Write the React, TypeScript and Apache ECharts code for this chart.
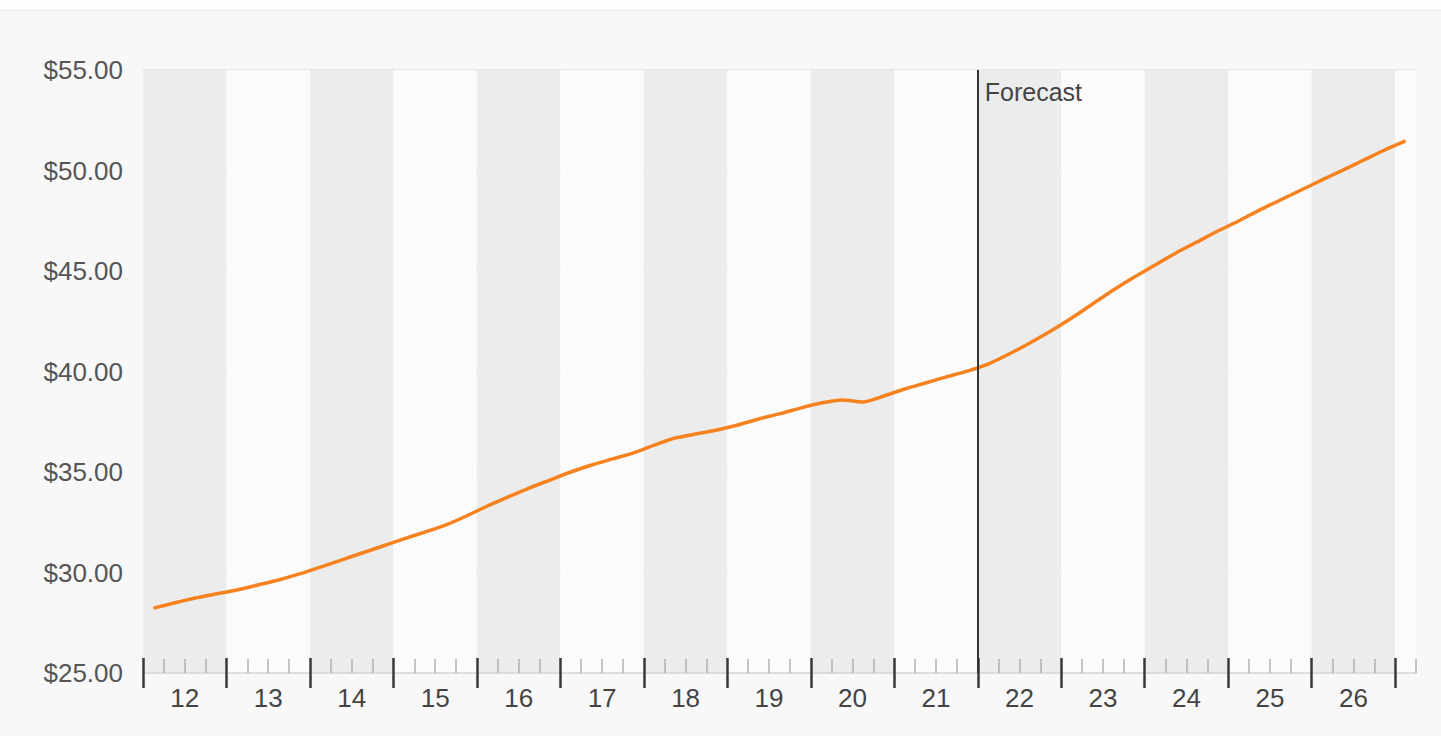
import React, { useEffect, useRef } from "react";
import * as echarts from "echarts";

// Year labels (20xx), one per year band
const yearLabels = ["12", "13", "14", "15", "16", "17", "18", "19", "20", "21", "22", "23", "24", "25", "26"];

// Quarterly values, 2012 Q1 .. 2027 Q1
const quarterValues = [
  28.23, 28.48, 28.73, 28.93,
  29.13, 29.38, 29.63, 29.93,
  30.27, 30.62, 30.97, 31.32,
  31.67, 32.01, 32.36, 32.81,
  33.31, 33.76, 34.2, 34.6,
  35.0, 35.35, 35.65, 35.95,
  36.34, 36.69, 36.89, 37.09,
  37.34, 37.64, 37.89, 38.18,
  38.43, 38.58, 38.48, 38.78,
  39.13, 39.43, 39.73, 40.02,
  40.37, 40.87, 41.42, 42.01,
  42.66, 43.36, 44.05, 44.7,
  45.3, 45.9, 46.44, 46.99,
  47.49, 48.03, 48.53, 49.03,
  49.53, 50.02, 50.52, 51.02,
  51.47,
];

const forecastStartQuarter = 40; // start of 2022
const forecastLabel = "Forecast";
const yMin = 25;
const yMax = 55;
const yStep = 5;

export default function App() {
  const ref = useRef<HTMLDivElement>(null);

  useEffect(() => {
    if (!ref.current) return;
    const chart = echarts.init(ref.current, null, { renderer: "svg" });
    const font = "'Liberation Sans', Arial, Helvetica, sans-serif";
    const data = quarterValues.map((v, i) => [i + 0.5, v]);
    const nQ = quarterValues.length; // 61
    const left = 143;
    const width0 = 1273;
    const width1 = (width0 / nQ) * (yearLabels.length * 4);

    chart.setOption({
      animation: false,
      backgroundColor: "#f8f8f8",
      textStyle: { fontFamily: font },
      grid: [
        { left, top: 59, width: width0, bottom: 63 },
        { left, top: 59, width: width1, bottom: 63 },
      ],
      xAxis: [
        {
          type: "value",
          gridIndex: 0,
          position: "bottom",
          min: 0,
          max: nQ + 0.0001,
          interval: 4,
          axisLine: { show: true, onZero: false, lineStyle: { color: "#d6d6d6", width: 1.5 } },
          axisTick: { show: false, inside: true },
          minorTick: { show: true, splitNumber: 4, length: 14, lineStyle: { color: "#b0b0b0", width: 1.5 } },
          axisLabel: { show: false },
          splitLine: { show: false },
          splitArea: { show: true, areaStyle: { color: ["#ececec", "#fbfbfb"] } },
        },
        {
          type: "value",
          gridIndex: 1,
          position: "bottom",
          min: 0,
          max: yearLabels.length * 4,
          interval: 4,
          axisLine: { show: false, onZero: false },
          axisTick: { show: true, inside: true, length: 15, lineStyle: { color: "#3a3a3a", width: 2.5 } },
          axisLabel: { show: false },
          splitLine: { show: false },
        },
        {
          type: "value",
          gridIndex: 1,
          position: "bottom",
          min: 0,
          max: yearLabels.length * 4,
          interval: 4,
          axisLine: { show: false, onZero: false },
          axisTick: { show: true, inside: false, length: 15, lineStyle: { color: "#3a3a3a", width: 2.5 } },
          axisLabel: { show: false },
          splitLine: { show: false },
        },
        {
          type: "value",
          gridIndex: 1,
          position: "bottom",
          min: 0,
          max: yearLabels.length * 4,
          interval: 2,
          axisLine: { show: false, onZero: false },
          axisTick: { show: false },
          axisLabel: {
            show: true,
            margin: 12,
            color: "#444",
            fontSize: 26,
            fontFamily: font,
            formatter: (v: number) => (v % 4 === 2 ? yearLabels[(v - 2) / 4] ?? "" : ""),
          },
          splitLine: { show: false },
        },
      ],
      yAxis: [
        {
          type: "value",
          gridIndex: 0,
          min: yMin,
          max: yMax,
          interval: yStep,
          axisLine: { show: false },
          axisTick: { show: false },
          axisLabel: {
            margin: 20,
            color: "#555",
            fontSize: 26,
            fontFamily: font,
            formatter: (v: number) => "$" + v.toFixed(2),
          },
          splitLine: { show: true, lineStyle: { color: "#e0e0e0", width: 1.5 } },
        },
        { type: "value", gridIndex: 1, min: 0, max: 1, show: false },
      ],
      series: [
        {
          type: "line",
          xAxisIndex: 0,
          yAxisIndex: 0,
          data,
          symbol: "none",
          showSymbol: false,
          smooth: 0.2,
          lineStyle: { color: "#f5821f", width: 3.5 },
          itemStyle: { color: "#f5821f" },
          markLine: {
            silent: true,
            symbol: ["none", "none"],
            label: { show: false },
            lineStyle: { color: "#333", width: 2, type: "solid" },
            data: [{ xAxis: forecastStartQuarter }],
          },
          markPoint: {
            silent: true,
            symbol: "circle",
            symbolSize: 0,
            itemStyle: { color: "rgba(0,0,0,0)" },
            label: {
              show: true,
              position: "right",
              distance: 7,
              offset: [0, 22],
              formatter: forecastLabel,
              color: "#444",
              fontSize: 25,
              fontFamily: font,
            },
            data: [{ coord: [forecastStartQuarter, yMax] }],
          },
        },
      ],
    });

    return () => chart.dispose();
  }, []);

  return (
    <div style={{ position: "fixed", left: 0, top: 0, width: 1441, height: 736, background: "#fdfdfd" }}>
      <div style={{ position: "absolute", left: 0, top: 10, width: 1441, height: 1, background: "#eeeeee" }} />
      <div ref={ref} style={{ position: "absolute", left: 0, top: 11, width: 1441, height: 725 }} />
    </div>
  );
}
